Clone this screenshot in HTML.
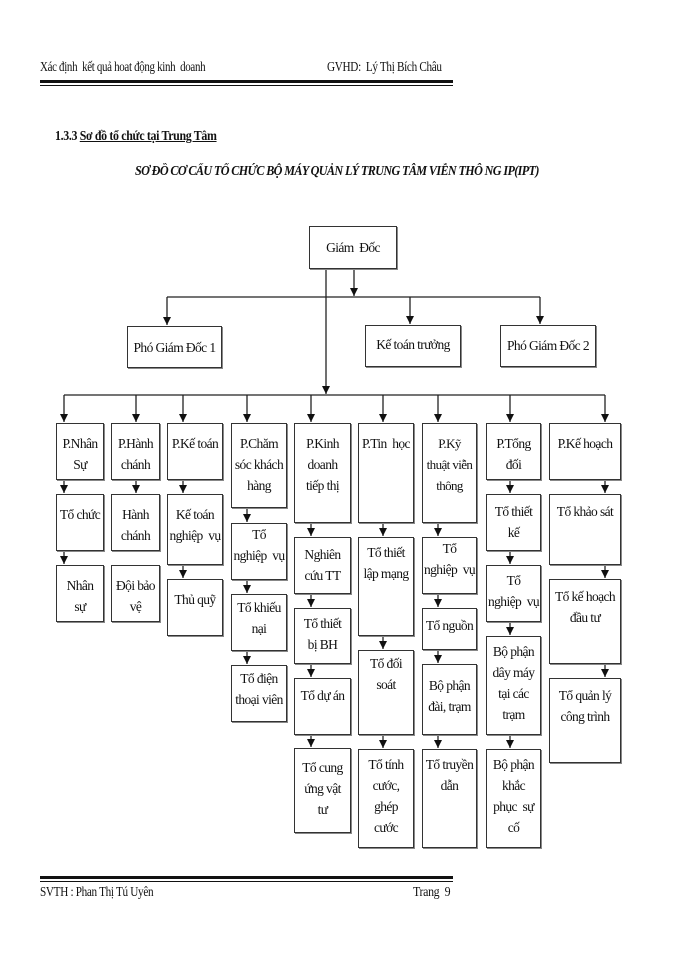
<!DOCTYPE html>
<html><head><meta charset="utf-8"><style>
body{margin:0;width:700px;height:960px;background:#fff;position:relative;overflow:hidden;font-family:"Liberation Serif",serif;color:#111}
.t{position:absolute;font-size:14px;white-space:nowrap;letter-spacing:-0.4px;transform-origin:0 0}
.b{position:absolute;border:1.5px solid #333;box-sizing:border-box;text-align:center;font-size:13.5px;line-height:21px;padding-top:9px;letter-spacing:-0.6px;background:#fff;box-shadow:1px 1px 0 #888;white-space:nowrap}
svg{position:absolute;left:0;top:0}
</style></head><body>
<div class="t" style="left:40px;top:60px;transform:scaleX(0.78)">Xác định &nbsp;kết quả hoat động kinh &nbsp;doanh</div>
<div class="t" style="left:327px;top:60px;transform:scaleX(0.8)">GVHD: &nbsp;Lý Thị Bích Châu</div>
<div style="position:absolute;left:40px;top:80px;width:413px;height:3px;background:#111"></div>
<div style="position:absolute;left:40px;top:85px;width:413px;height:1px;background:#111"></div>
<div class="t" style="left:55px;top:129px;font-weight:bold;font-size:14px;transform:scaleX(0.85)">1.3.3 <u>Sơ đồ tổ chức tại Trung Tâm</u></div>
<div class="t" style="left:135px;top:163px;font-weight:bold;font-style:italic;font-size:13.5px;letter-spacing:-0.7px;transform:scaleX(0.9)">SƠ ĐỒ CƠ CẤU TỔ CHỨC BỘ MÁY QUẢN LÝ TRUNG TÂM VIỄN THÔ NG IP(IPT)</div>

<svg width="700" height="960">
<defs><marker id="a" markerWidth="8" markerHeight="8" refX="8" refY="4" orient="auto" markerUnits="userSpaceOnUse"><path d="M0,0 L8,4 L0,8z" fill="#111"/></marker></defs>
<g stroke="#222" stroke-width="1.3" fill="none">
<line x1="354" y1="269" x2="354" y2="296" marker-end="url(#a)"/>
<line x1="167" y1="297" x2="540" y2="297"/>
<line x1="167" y1="297" x2="167" y2="325" marker-end="url(#a)"/>
<line x1="410" y1="297" x2="410" y2="324" marker-end="url(#a)"/>
<line x1="540" y1="297" x2="540" y2="324" marker-end="url(#a)"/>
<line x1="326" y1="269" x2="326" y2="394" marker-end="url(#a)"/>
<line x1="64" y1="395" x2="605" y2="395"/>
<line x1="64" y1="395" x2="64" y2="422" marker-end="url(#a)"/>
<line x1="136" y1="395" x2="136" y2="422" marker-end="url(#a)"/>
<line x1="183" y1="395" x2="183" y2="422" marker-end="url(#a)"/>
<line x1="247" y1="395" x2="247" y2="422" marker-end="url(#a)"/>
<line x1="311" y1="395" x2="311" y2="422" marker-end="url(#a)"/>
<line x1="383" y1="395" x2="383" y2="422" marker-end="url(#a)"/>
<line x1="438" y1="395" x2="438" y2="422" marker-end="url(#a)"/>
<line x1="510" y1="395" x2="510" y2="422" marker-end="url(#a)"/>
<line x1="605" y1="395" x2="605" y2="422" marker-end="url(#a)"/>
<line x1="64" y1="480" x2="64" y2="493" marker-end="url(#a)"/>
<line x1="64" y1="551" x2="64" y2="564" marker-end="url(#a)"/>
<line x1="136" y1="480" x2="136" y2="493" marker-end="url(#a)"/>
<line x1="183" y1="480" x2="183" y2="493" marker-end="url(#a)"/>
<line x1="183" y1="565" x2="183" y2="578" marker-end="url(#a)"/>
<line x1="247" y1="508" x2="247" y2="522" marker-end="url(#a)"/>
<line x1="247" y1="580" x2="247" y2="593" marker-end="url(#a)"/>
<line x1="247" y1="651" x2="247" y2="664" marker-end="url(#a)"/>
<line x1="311" y1="523" x2="311" y2="536" marker-end="url(#a)"/>
<line x1="311" y1="594" x2="311" y2="607" marker-end="url(#a)"/>
<line x1="311" y1="664" x2="311" y2="677" marker-end="url(#a)"/>
<line x1="311" y1="735" x2="311" y2="747" marker-end="url(#a)"/>
<line x1="383" y1="523" x2="383" y2="536" marker-end="url(#a)"/>
<line x1="383" y1="636" x2="383" y2="649" marker-end="url(#a)"/>
<line x1="383" y1="735" x2="383" y2="748" marker-end="url(#a)"/>
<line x1="438" y1="523" x2="438" y2="536" marker-end="url(#a)"/>
<line x1="438" y1="594" x2="438" y2="607" marker-end="url(#a)"/>
<line x1="438" y1="650" x2="438" y2="663" marker-end="url(#a)"/>
<line x1="438" y1="735" x2="438" y2="748" marker-end="url(#a)"/>
<line x1="510" y1="480" x2="510" y2="493" marker-end="url(#a)"/>
<line x1="510" y1="551" x2="510" y2="564" marker-end="url(#a)"/>
<line x1="510" y1="622" x2="510" y2="635" marker-end="url(#a)"/>
<line x1="510" y1="735" x2="510" y2="748" marker-end="url(#a)"/>
<line x1="605" y1="480" x2="605" y2="493" marker-end="url(#a)"/>
<line x1="605" y1="565" x2="605" y2="578" marker-end="url(#a)"/>
<line x1="605" y1="664" x2="605" y2="677" marker-end="url(#a)"/>
</g></svg>

<div class="b" style="left:309px;top:226px;width:88px;height:43px;padding-top:10px;">Giám &nbsp;Đốc</div>
<div class="b" style="left:127px;top:326px;width:95px;height:42px;padding-top:10px;">Phó Giám Đốc 1</div>
<div class="b" style="left:365px;top:325px;width:96px;height:42px;padding-top:8px;">Kế toán trưởng</div>
<div class="b" style="left:500px;top:325px;width:96px;height:42px;padding-top:9px;">Phó Giám Đốc 2</div>

<div class="b" style="left:56px;top:423px;width:48px;height:57px;">P.Nhân<br>Sự</div>
<div class="b" style="left:56px;top:494px;width:48px;height:57px;">Tổ chức</div>
<div class="b" style="left:56px;top:565px;width:48px;height:57px;">Nhân<br>sự</div>

<div class="b" style="left:111px;top:423px;width:49px;height:57px;">P.Hành<br>chánh</div>
<div class="b" style="left:111px;top:494px;width:49px;height:57px;">Hành<br>chánh</div>
<div class="b" style="left:111px;top:565px;width:49px;height:57px;">Đội bảo<br>vệ</div>

<div class="b" style="left:167px;top:423px;width:56px;height:57px;">P.Kế toán</div>
<div class="b" style="left:167px;top:494px;width:56px;height:71px;">Kế toán<br>nghiệp &nbsp;vụ</div>
<div class="b" style="left:167px;top:579px;width:56px;height:57px;">Thủ quỹ</div>

<div class="b" style="left:231px;top:423px;width:56px;height:85px;">P.Chăm<br>sóc khách<br>hàng</div>
<div class="b" style="left:231px;top:523px;width:56px;height:57px;padding-top:0;">Tổ<br>nghiệp &nbsp;vụ</div>
<div class="b" style="left:231px;top:594px;width:56px;height:57px;padding-top:2px;">Tổ khiếu<br>nại</div>
<div class="b" style="left:231px;top:665px;width:56px;height:57px;padding-top:2px;">Tổ điện<br>thoại viên</div>

<div class="b" style="left:294px;top:423px;width:57px;height:100px;">P.Kinh<br>doanh<br>tiếp thị</div>
<div class="b" style="left:294px;top:537px;width:57px;height:57px;padding-top:6px;">Nghiên<br>cứu TT</div>
<div class="b" style="left:294px;top:608px;width:57px;height:56px;padding-top:4px;">Tổ thiết<br>bị BH</div>
<div class="b" style="left:294px;top:678px;width:57px;height:57px;padding-top:6px;">Tổ dự án</div>
<div class="b" style="left:294px;top:748px;width:57px;height:85px;padding-top:8px;">Tổ cung<br>ứng vật<br>tư</div>

<div class="b" style="left:358px;top:423px;width:56px;height:100px;">P.Tin &nbsp;học</div>
<div class="b" style="left:358px;top:537px;width:56px;height:99px;padding-top:4px;">Tổ thiết<br>lập mạng</div>
<div class="b" style="left:358px;top:650px;width:56px;height:85px;padding-top:2px;">Tổ đối<br>soát</div>
<div class="b" style="left:358px;top:749px;width:56px;height:99px;padding-top:4px;">Tổ tính<br>cước,<br>ghép<br>cước</div>

<div class="b" style="left:422px;top:423px;width:55px;height:100px;font-size:13px;">P.Kỹ<br>thuật viễn<br>thông</div>
<div class="b" style="left:422px;top:537px;width:55px;height:57px;padding-top:0;">Tổ<br>nghiệp &nbsp;vụ</div>
<div class="b" style="left:422px;top:608px;width:55px;height:42px;padding-top:6px;">Tổ nguồn</div>
<div class="b" style="left:422px;top:664px;width:55px;height:71px;padding-top:10px;">Bộ phận<br>đài, trạm</div>
<div class="b" style="left:422px;top:749px;width:55px;height:99px;padding-top:4px;">Tổ truyền<br>dẫn</div>

<div class="b" style="left:486px;top:423px;width:55px;height:57px;">P.Tổng<br>đối</div>
<div class="b" style="left:486px;top:494px;width:55px;height:57px;padding-top:6px;">Tổ thiết<br>kế</div>
<div class="b" style="left:486px;top:565px;width:55px;height:57px;padding-top:4px;">Tổ<br>nghiệp &nbsp;vụ</div>
<div class="b" style="left:486px;top:636px;width:55px;height:99px;padding-top:4px;">Bộ phận<br>dây máy<br>tại các<br>trạm</div>
<div class="b" style="left:486px;top:749px;width:55px;height:99px;padding-top:4px;">Bộ phận<br>khắc<br>phục &nbsp;sự<br>cố</div>

<div class="b" style="left:549px;top:423px;width:72px;height:57px;">P.Kế hoạch</div>
<div class="b" style="left:549px;top:494px;width:72px;height:71px;padding-top:6px;">Tổ khảo sát</div>
<div class="b" style="left:549px;top:579px;width:72px;height:85px;padding-top:6px;">Tổ kế hoạch<br>đầu tư</div>
<div class="b" style="left:549px;top:678px;width:72px;height:85px;padding-top:6px;">Tổ quản lý<br>công trình</div>

<div style="position:absolute;left:40px;top:876px;width:413px;height:3px;background:#111"></div>
<div style="position:absolute;left:40px;top:881px;width:413px;height:1px;background:#111"></div>
<div class="t" style="left:40px;top:885px;transform:scaleX(0.8)">SVTH : Phan Thị Tú Uyên</div>
<div class="t" style="left:413px;top:885px;transform:scaleX(0.85)">Trang &nbsp;9</div>
</body></html>
